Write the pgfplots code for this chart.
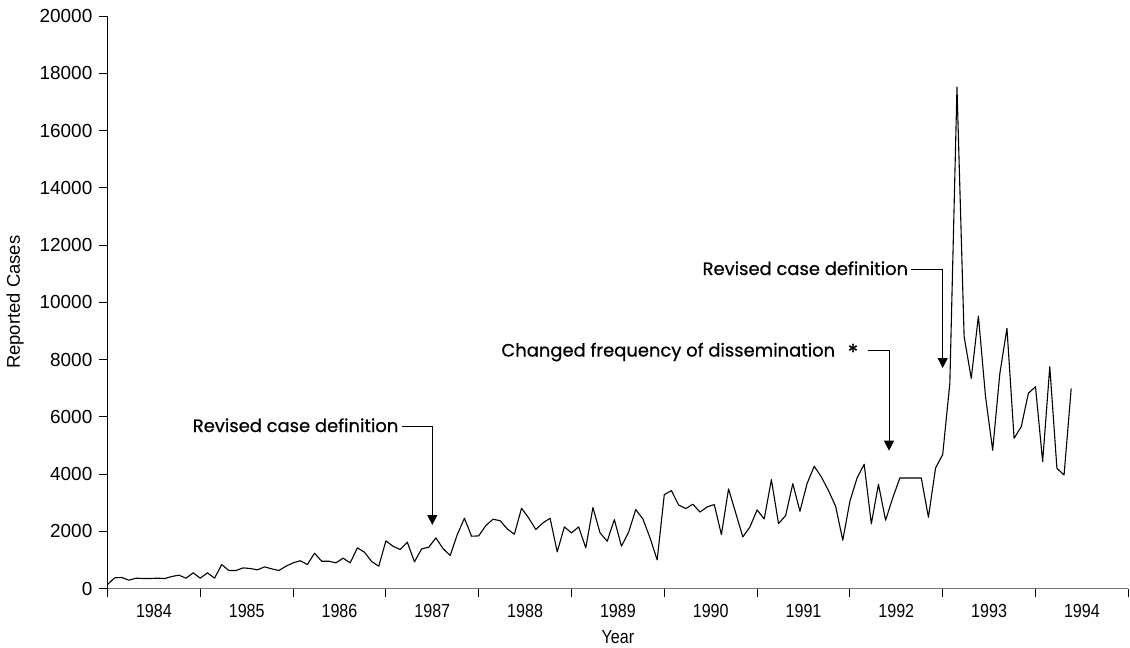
\documentclass[border=0pt]{standalone}
\usepackage{fontspec}
\setmainfont{Liberation Sans}
\newfontfamily\annfont[FakeBold=0.6]{Poppins}
\newfontfamily\xfont[FakeStretch=0.85]{Liberation Sans}
\usepackage{pgfplots}
\usepackage{pgfplotstable}
\pgfplotsset{compat=1.18}
\usetikzlibrary{arrows.meta}

\pgfplotstableread{
k v
0 140
1 373
2 384
3 291
4 361
5 349
6 349
7 361
8 349
9 419
10 466
11 361
12 547
13 361
14 547
15 361
16 838
17 628
18 628
19 721
20 698
21 652
22 756
23 687
24 628
25 780
26 896
27 970
28 838
29 1233
30 954
31 954
32 896
33 1059
34 896
35 1419
36 1268
37 943
38 780
39 1664
40 1477
41 1361
42 1617
43 931
44 1384
45 1443
46 1768
47 1396
48 1152
49 1885
50 2455
51 1827
52 1838
53 2199
54 2420
55 2370
56 2083
57 1896
58 2804
59 2466
60 2059
61 2292
62 2455
63 1280
64 2152
65 1943
66 2152
67 1419
68 2827
69 1943
70 1652
71 2408
72 1477
73 1966
74 2757
75 2431
76 1768
77 1000
78 3281
79 3420
80 2920
81 2792
82 2944
83 2670
84 2850
85 2932
86 1885
87 3478
88 2641
89 1803
90 2152
91 2745
92 2431
93 3804
94 2268
95 2548
96 3665
97 2699
98 3665
99 4270
100 3897
101 3420
102 2874
103 1687
104 3048
105 3862
106 4340
107 2257
108 3642
109 2385
110 3164
111 3862
112 3862
113 3862
114 3862
115 2490
116 4212
117 4680
118 7170
119 17510
120 8800
121 7340
122 9520
123 6700
124 4830
125 7500
126 9090
127 5250
128 5650
129 6820
130 7050
131 4430
132 7750
133 4200
134 3965
135 6990
}\datatable

\begin{document}
\begin{tikzpicture}[x=1bp,y=1bp]
\useasboundingbox (0bp,0bp) rectangle (1130bp,-648bp);
\begin{axis}[
  at={(107.5bp,-588.5bp)}, anchor=south west,
  scale only axis, width=1020.8bp, height=572.5bp,
  xmin=0, xmax=143, ymin=0, ymax=20000,
  clip=false,
  axis x line*=bottom, axis y line*=left,
  x axis line style={black!55, line width=1.6bp},
  y axis line style={black, line width=1bp},
  xtick={6.5,19.5,32.5,45.5,58.5,71.5,84.5,97.5,110.5,123.5,136.5},
  xticklabels={1984,1985,1986,1987,1988,1989,1990,1991,1992,1993,1994},
  major x tick style={draw=none},
  minor xtick={0,13,26,39,52,65,78,91,104,117,130,143},
  minor x tick style={black, line width=1bp},
  ytick={0,2000,4000,6000,8000,10000,12000,14000,16000,18000,20000},
  y tick style={black, line width=1bp},
  tick align=outside,
  major tick length=8.5bp, minor tick length=8.5bp,
  scaled y ticks=false,
  /pgf/number format/1000 sep={},
  /pgf/number format/assume math mode=true,
  yticklabel style={font=\fontsize{19}{19}\selectfont, anchor=east, inner sep=0pt, xshift=-6.5bp},
  xticklabel style={font=\xfont\fontsize{19}{19}\selectfont, anchor=base, inner sep=0pt, yshift=-20bp},
  xlabel={Year},
  xlabel style={font=\xfont\fontsize{19}{19}\selectfont, at={(axis description cs:0.5,-0.0847)}, anchor=center, inner sep=0pt},
  ylabel={Reported Cases},
  ylabel style={font=\fontsize{18.5}{18.5}\selectfont, at={(axis description cs:-0.0906,0.5)}, anchor=center, inner sep=0pt},
]
\addplot[black, line width=1.1bp, line join=round, mark=none] table[x=k, y=v] {\datatable};
\end{axis}
\begin{scope}[line width=1bp, -{Triangle[width=10bp,length=10bp]}]
\draw (402bp,-426bp) -- (432.3bp,-426bp) -- (432.3bp,-525bp);
\draw (867.5bp,-350bp) -- (889bp,-350bp) -- (889bp,-450.7bp);
\draw (911bp,-269bp) -- (942.7bp,-269bp) -- (942.7bp,-368bp);
\end{scope}
\begin{scope}[every node/.style={font=\annfont\fontsize{18}{18}\selectfont, inner sep=0pt, anchor=base east}]
\node at (398.5bp,-432bp) {Revised case definition};
\node at (858.5bp,-356.5bp) {Changed frequency of dissemination\hspace{0.7em}\raisebox{-3.5bp}{\fontsize{22}{22}\selectfont *}};
\node at (908.3bp,-275bp) {Revised case definition};
\end{scope}
\end{tikzpicture}
\end{document}
